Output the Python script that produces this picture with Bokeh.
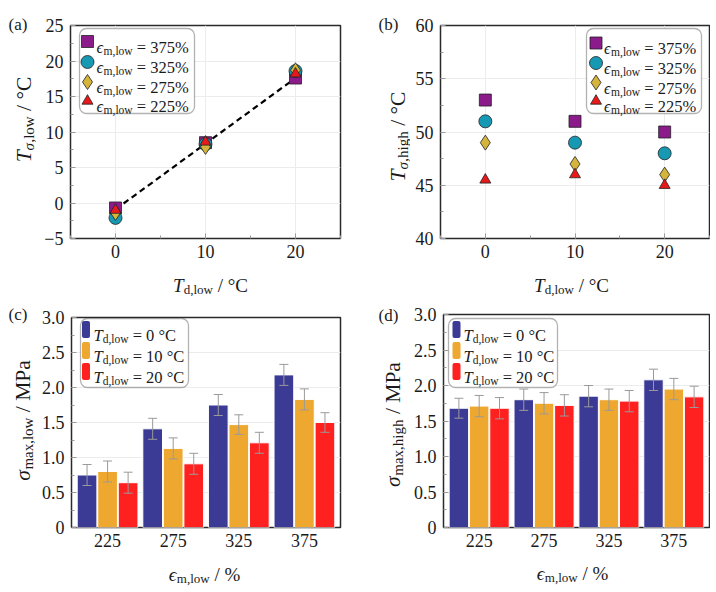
import math
from bokeh.plotting import figure
from bokeh.layouts import column, row
from bokeh.models import (Range1d, FactorRange, Label, BoxAnnotation, FixedTicker,
                          Whisker, TeeHead, ColumnDataSource, Spacer)
from bokeh.transform import dodge
from bokeh.embed import file_html
from bokeh.resources import INLINE

FONT = "'Liberation Serif', serif"
TXT = "#1a1a1a"

# ---------------- data ----------------
td_low = [0, 10, 20]                       # T_d,low / °C
eps_series = ["375", "325", "275", "225"]  # legend order, eps_m,low / %

# panel (a): T_sigma,low / °C
t_low_375 = [-0.7, 8.5, 17.6]
t_low_325 = [-2.1, 8.3, 18.6]
t_low_275 = [-1.4, 7.9, 18.7]
t_low_225 = [-1.0, 8.6, 18.2]
fit_td = [0, 20]
fit_t = [-0.9, 17.6]

# panel (b): T_sigma,high / °C
t_high_375 = [53.0, 51.0, 50.0]
t_high_325 = [51.0, 49.0, 48.0]
t_high_275 = [49.0, 47.0, 46.0]
t_high_225 = [45.5, 46.0, 45.0]

# panels (c), (d)
eps_cats = ["225", "275", "325", "375"]
td_series = ["0", "10", "20"]
s_low_0 = [0.75, 1.41, 1.75, 2.18]
s_low_10 = [0.80, 1.13, 1.47, 1.83]
s_low_20 = [0.64, 0.91, 1.21, 1.50]
e_low_0 = [0.15, 0.15, 0.15, 0.15]
e_low_10 = [0.15, 0.15, 0.14, 0.15]
e_low_20 = [0.15, 0.15, 0.15, 0.14]
s_high_0 = [1.68, 1.80, 1.85, 2.08]
s_high_10 = [1.71, 1.75, 1.80, 1.95]
s_high_20 = [1.68, 1.72, 1.78, 1.84]
e_high_0 = [0.14, 0.15, 0.15, 0.15]
e_high_10 = [0.15, 0.15, 0.15, 0.15]
e_high_20 = [0.15, 0.15, 0.15, 0.15]

# ticks
ticks_td = [0, 10, 20]
minor_td = [-5, 5, 15, 25]
ticks_a = [-5, 0, 5, 10, 15, 20, 25]
labels_a = ["\u22125", "0", "5", "10", "15", "20", "25"]
ticks_b = [40, 45, 50, 55, 60]
labels_b = ["40", "45", "50", "55", "60"]
ticks_s = [0, 0.5, 1.0, 1.5, 2.0, 2.5, 3.0]
labels_s = ["0", "0.5", "1.0", "1.5", "2.0", "2.5", "3.0"]

# ---------------- styles ----------------
MARK = {"375": ("square", "#8b1a8b", 12),
        "325": ("circle", "#1799b3", 13),
        "275": ("diamond", "#d4b43a", 15),
        "225": ("triangle", "#e8191b", 11)}
BAR_COL = {"0": "#3b3b96", "10": "#efa82f", "20": "#ff2020"}

W = {' ': 250, '=': 564, '%': 833, '/': 278, '\u00b0': 400, 'C': 667, 'M': 889, 'P': 556,
     'a': 444, 'm': 778, ',': 250, 'l': 278, 'o': 500, 'w': 722, 'd': 500, 'h': 500,
     'i': 278, 'g': 500, 'x': 500, '(': 333, ')': 333, 'T': 556, '\u03c3': 520,
     '\u03f5': 430}

YL, YS, YD = 21.5, 15, 5      # y-label font, subscript font, subscript shift
XL, XS, XD = 19, 13, 3.5      # x-label
LL, LS, LD = 16.5, 11.5, 3.5  # legend


def tw(s, size):
    return sum(W.get(c, 500) for c in s) * size / 1000.0


def rich(p, x, y, parts, angle=0.0, center=False):
    """parts: (text, size, italic, dy); x,y = canvas coords of the baseline start."""
    ca, sa = math.cos(angle), math.sin(angle)
    if center:
        total = sum(tw(t, s) for t, s, it, dy in parts)
        x -= total / 2 * ca
        y += total / 2 * sa
    for t, s, it, dy in parts:
        lead = len(t) - len(t.lstrip(' '))
        adv = tw(' ' * lead, s)
        x += adv * ca
        y -= adv * sa
        core = t.strip(' ')
        p.add_layout(Label(x=x + dy * sa, y=y + dy * ca, x_units="canvas", y_units="canvas",
                           text=core, angle=angle, text_font=FONT,
                           text_font_size=f"{s}px",
                           text_font_style="italic" if it else "normal",
                           text_color=TXT, text_align="left", text_baseline="alphabetic"))
        rest = tw(t.lstrip(' '), s)
        x += rest * ca
        y -= rest * sa


def strip(w, h):
    s = figure(width=w, height=h, x_range=Range1d(0, w), y_range=Range1d(0, h),
               output_backend="svg", toolbar_location=None, title=None,
               x_axis_location=None, y_axis_location=None,
               min_border=0, min_border_left=0, min_border_right=0,
               min_border_top=0, min_border_bottom=0)
    s.outline_line_color = None
    s.grid.visible = False
    s.background_fill_color = "white"
    s.border_fill_color = "white"
    return s


def make_fig(geom, xr, yr):
    left, top, fw, fh, right, bottom = geom
    p = figure(width=left + fw + right, height=top + fh + bottom, x_range=xr, y_range=yr,
               output_backend="svg", toolbar_location=None, title=None,
               min_border=0, min_border_left=left, min_border_right=right,
               min_border_top=top, min_border_bottom=bottom)
    p.outline_line_color = "#2a2a2a"
    p.outline_line_width = 1.5
    p.background_fill_color = "white"
    p.border_fill_color = "white"
    for ax in p.axis:
        ax.axis_line_color = None
        ax.major_tick_in = 5
        ax.major_tick_out = 0
        ax.minor_tick_in = 3
        ax.minor_tick_out = 0
        ax.major_tick_line_color = "#9a9a9a"
        ax.minor_tick_line_color = "#9a9a9a"
        ax.major_label_text_font = FONT
        ax.major_label_text_font_size = "18px"
        ax.major_label_text_color = TXT
    p.yaxis.major_label_standoff = 7
    p.xaxis.major_label_standoff = 6
    p.grid.grid_line_color = "#ececec"
    p.grid.grid_line_width = 1
    return p


def set_y(p, ticks, labels, minor):
    t = FixedTicker(ticks=ticks, minor_ticks=minor)
    p.yaxis.ticker = t
    p.ygrid.ticker = t
    p.yaxis.major_label_overrides = {k: v for k, v in zip(ticks, labels)}


def to_data(geom, xr, yr, cx, cy):
    left, top, fw, fh, right, bottom = geom
    dx = xr.start + (cx - left) / fw * (xr.end - xr.start)
    dy = yr.end - (cy - top) / fh * (yr.end - yr.start)
    return dx, dy


def legend_box(p, x0, y0, x1, y1, off):
    p.add_layout(BoxAnnotation(left=x0 - off[0], right=x1 - off[0], top=y0 - off[1],
                               bottom=y1 - off[1], left_units="canvas", right_units="canvas",
                               top_units="canvas", bottom_units="canvas",
                               fill_color="white", fill_alpha=1.0, line_color="black",
                               line_width=1.3, border_radius=7, level="underlay"))


def eps_parts(e):
    return [("\u03f5", LL, True, 0), ("m,low", LS, False, LD), (f" = {e}%", LL, False, 0)]


def td_parts(t):
    return [("T", LL, True, 0), ("d,low", LS, False, LD), (f" = {t} \u00b0C", LL, False, 0)]


def panel_layout(ys, main, xs):
    return row(ys, column(main, xs, spacing=0), spacing=0)


# geometry of main figures: (left, top, frame_w, frame_h, right, bottom)
GA = (32, 17, 270, 213, 18, 27)
GB = (30, 17, 269, 213, 1, 27)
GC = (32, 21, 270, 210, 18, 27)
GD = (30, 18, 269, 213, 1, 27)
# page origins: y-strip, main, x-strip (+ strip sizes)
PA = dict(ys=(0, 8), ysw=38, ysh=288, main=(38, 8), xs=(38, 265), xsh=31)
PB = dict(ys=(358, 8), ysw=52, ysh=288, main=(410, 8), xs=(410, 265), xsh=31)
PC = dict(ys=(0, 296), ysw=38, ysh=292, main=(38, 296), xs=(38, 554), xsh=34)
PD = dict(ys=(358, 296), ysw=52, ysh=292, main=(410, 296), xs=(410, 554), xsh=34)


def sub(pt, org):
    return pt[0] - org[0], pt[1] - org[1]


# ---------------- scatter panels (a), (b) ----------------
def scatter_panel(geom, pos, yr, ticks, labels, minor, series, fit, leg, ylab_parts, ylab_pos,
                  xlab_pos, letter, letter_pos):
    xr = Range1d(-5, 25)
    p = make_fig(geom, xr, yr)
    tx = FixedTicker(ticks=ticks_td, minor_ticks=minor_td)
    p.xaxis.ticker = tx
    p.xgrid.ticker = tx
    set_y(p, ticks, labels, minor)
    off = pos["main"]
    if fit is not None:
        p.line(fit[0], fit[1], line_color="black", line_width=2.2, line_dash="6 4")
    for e in ["375", "325", "275", "225"]:
        m, c, s = MARK[e]
        p.scatter(td_low, series[e], marker=m, size=s, fill_color=c, line_color="#222222",
                  line_width=0.8)
    bx0, by0, bx1, by1, mx, tx0, ys_ = leg
    legend_box(p, bx0, by0, bx1, by1, off)
    for e, yc in zip(eps_series, ys_):
        m, c, s = MARK[e]
        dx, dy = to_data(geom, xr, yr, mx - off[0], yc - off[1])
        p.scatter([dx], [dy], marker=m, size=s, fill_color=c, line_color="#222222",
                  line_width=0.8)
        rich(p, tx0 - off[0], yc + 5.5 - off[1], eps_parts(e))
    ys = strip(pos["ysw"], pos["ysh"])
    x, y = sub(ylab_pos, pos["ys"])
    rich(ys, x, y, ylab_parts, angle=math.pi / 2, center=True)
    x, y = sub(letter_pos, pos["ys"])
    rich(ys, x, y, [(letter, 17, False, 0)])
    xs = strip(geom[0] + geom[2] + geom[4], pos["xsh"])
    x, y = sub(xlab_pos, pos["xs"])
    rich(xs, x, y, [("T", XL, True, 0), ("d,low", XS, False, XD), (" / \u00b0C", XL, False, 0)],
         center=True)
    return panel_layout(ys, p, xs)


pa = scatter_panel(GA, PA, Range1d(-5, 25), ticks_a, labels_a, [-2.5, 2.5, 7.5, 12.5, 17.5, 22.5],
                   {"375": t_low_375, "325": t_low_325, "275": t_low_275, "225": t_low_225},
                   (fit_td, fit_t),
                   (79, 28, 194, 113, 87, 96, [41, 61.5, 81.5, 100.5]),
                   [("T", YL, True, 0), ("\u03c3", YS, True, YD), (",low", YS, False, YD),
                    (" / \u00b0C", YL, False, 0)],
                   (23, 119), (210, 285), "(a)", (8, 24))

pb = scatter_panel(GB, PB, Range1d(40, 60), ticks_b, labels_b, [42.5, 47.5, 52.5, 57.5],
                   {"375": t_high_375, "325": t_high_325, "275": t_high_275, "225": t_high_225},
                   None,
                   (586, 28, 701, 113, 595.5, 603.5, [42.5, 62.5, 82, 100.5]),
                   [("T", YL, True, 0), ("\u03c3", YS, True, YD), (",high", YS, False, YD),
                    (" / \u00b0C", YL, False, 0)],
                   (397, 136), (571, 285), "(b)", (378, 24))


# ---------------- bar panels (c), (d) ----------------
def bar_panel(geom, pos, vals, errs, leg, ylab_parts, ylab_pos, xlab_pos, letter, letter_pos):
    xr = FactorRange(factors=eps_cats, range_padding=0.025, range_padding_units="percent")
    yr = Range1d(0, 3.0)
    p = make_fig(geom, xr, yr)
    p.xgrid.grid_line_color = None
    p.xaxis.major_tick_in = 0
    set_y(p, ticks_s, labels_s, [0.25, 0.75, 1.25, 1.75, 2.25, 2.75])
    off = pos["main"]
    offs = [-0.313, 0.0, 0.313]
    for t, o in zip(td_series, offs):
        v = vals[t]
        e = errs[t]
        src = ColumnDataSource(dict(cat=eps_cats, val=v,
                                    up=[a + b for a, b in zip(v, e)],
                                    lo=[a - b for a, b in zip(v, e)]))
        p.vbar(x=dodge("cat", o, range=xr), top="val", width=0.3, source=src,
               fill_color=BAR_COL[t], line_color="white", line_width=1)
        p.add_layout(Whisker(source=src, base=dodge("cat", o, range=xr), upper="up", lower="lo",
                             line_color="#9a9a9a", line_width=1, level="annotation",
                             upper_head=TeeHead(size=9, line_color="#9a9a9a", line_width=1),
                             lower_head=TeeHead(size=9, line_color="#9a9a9a", line_width=1)))
    bx0, by0, bx1, by1, sx0, tx0, ys_ = leg
    legend_box(p, bx0, by0, bx1, by1, off)
    for t, yc in zip(td_series, ys_):
        p.add_layout(BoxAnnotation(left=sx0 - off[0], right=sx0 + 8 - off[0],
                                   top=yc - 8.5 - off[1], bottom=yc + 8.5 - off[1],
                                   left_units="canvas", right_units="canvas",
                                   top_units="canvas", bottom_units="canvas",
                                   fill_color=BAR_COL[t], fill_alpha=1.0, line_color=None,
                                   border_radius=2))
        rich(p, tx0 - off[0], yc + 5.5 - off[1], td_parts(t))
    ys = strip(pos["ysw"], pos["ysh"])
    x, y = sub(ylab_pos, pos["ys"])
    rich(ys, x, y, ylab_parts, angle=math.pi / 2, center=True)
    x, y = sub(letter_pos, pos["ys"])
    rich(ys, x, y, [(letter, 17, False, 0)])
    xs = strip(geom[0] + geom[2] + geom[4], pos["xsh"])
    x, y = sub(xlab_pos, pos["xs"])
    rich(xs, x, y, [("\u03f5", XL, True, 0), ("m,low", XS, False, XD), (" / %", XL, False, 0)],
         center=True)
    return panel_layout(ys, p, xs)


pc = bar_panel(GC, PC, {"0": s_low_0, "10": s_low_10, "20": s_low_20},
               {"0": e_low_0, "10": e_low_10, "20": e_low_20},
               (80, 318, 188, 387, 81.5, 93, [329, 350, 371]),
               [("\u03c3", YL, True, 0), ("max,low", YS, False, YD), (" / MPa", YL, False, 0)],
               (22, 420), (204, 574), "(c)", (8, 314))

pd_ = bar_panel(GD, PD, {"0": s_high_0, "10": s_high_10, "20": s_high_20},
                {"0": e_high_0, "10": e_high_10, "20": e_high_20},
                (448, 318, 557, 387, 452, 463, [329, 350, 371]),
                [("\u03c3", YL, True, 0), ("max,high", YS, False, YD), (" / MPa", YL, False, 0)],
                (392, 424), (572, 573), "(d)", (378, 315))

layout = column(Spacer(width=10, height=8),
                row(pa, pb, spacing=0),
                row(pc, pd_, spacing=0), spacing=0)
open("out.html", "w").write(file_html(layout, INLINE))
